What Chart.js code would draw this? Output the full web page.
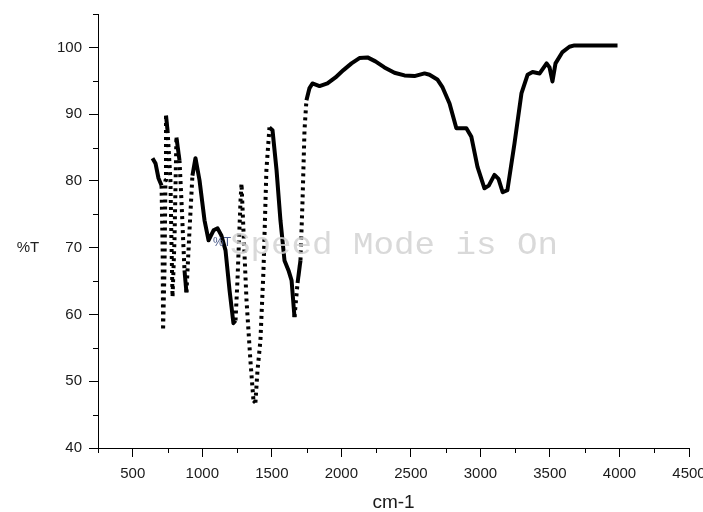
<!DOCTYPE html>
<html>
<head>
<meta charset="utf-8">
<title>%T vs cm-1</title>
<script src="https://cdn.jsdelivr.net/npm/chart.js@4.4.1/dist/chart.umd.min.js"></script>
<style>
  html, body { margin: 0; padding: 0; background: #fff; }
  #wrap { width: 703px; height: 512px; }
</style>
</head>
<body>
<div id="wrap"><canvas id="irChart" width="703" height="512"></canvas></div>
<script>
// spectrum (cm-1 / %T)
var wavenumber = [
  642, 664, 685, 707, 715, 718, 728, 735, 739, 750,
  771, 778, 786, 800, 814, 836, 850, 872, 886, 908,
  929, 951, 980, 1016, 1045, 1081, 1110, 1138, 1167, 1196,
  1224, 1239, 1253, 1275, 1282, 1296, 1318, 1346, 1368, 1382,
  1397, 1418, 1440, 1461, 1483, 1505, 1534, 1562, 1591, 1620,
  1642, 1663, 1685, 1706, 1721, 1735, 1749, 1771, 1792, 1843,
  1900, 1958, 2015, 2073, 2130, 2188, 2245, 2310, 2382, 2454,
  2526, 2598, 2634, 2690, 2728, 2778, 2827, 2899, 2935, 2979,
  3029, 3060, 3101, 3130, 3160, 3194, 3245, 3295, 3339, 3375,
  3426, 3476, 3497, 3518, 3540, 3590, 3640, 3676, 3986
];
var transmittance = [
  83.4, 82.6, 80.4, 79.3, 69.6, 57.6, 66.6, 80.1, 89.8, 87.6,
  80.1, 71.1, 62.6, 71.1, 86.5, 83.1, 77.1, 66.6, 63.3, 72.6,
  80.8, 83.4, 80.1, 74.1, 71.1, 72.6, 72.9, 71.8, 69.6, 63.6,
  58.7, 59.1, 65.1, 77.1, 79.6, 72.6, 62.1, 53.1, 47.1, 46.8,
  51.6, 56.1, 66.6, 81.6, 88.0, 87.6, 81.6, 74.1, 68.1, 66.6,
  65.1, 59.6, 64.7, 68.1, 77.1, 87.6, 92.1, 93.9, 94.6, 94.2,
  94.6, 95.5, 96.6, 97.6, 98.4, 98.5, 97.9, 97.0, 96.2, 95.8,
  95.7, 96.1, 95.9, 95.2, 94.0, 91.6, 87.9, 87.9, 86.6, 82.1,
  78.9, 79.3, 80.9, 80.3, 78.3, 78.6, 85.6, 93.1, 95.9, 96.3,
  96.1, 97.6, 97.0, 94.9, 97.6, 99.3, 100.1, 100.3, 100.3
];

var xTicks = [500, 1000, 1500, 2000, 2500, 3000, 3500, 4000, 4500];
var xMinorTicks = [250, 750, 1250, 1750, 2250, 2750, 3250, 3750, 4250];
var yTicks = [40, 50, 60, 70, 80, 90, 100];
var yMinorTicks = [45, 55, 65, 75, 85, 95, 105];

var points = wavenumber.map(function(w, i) {
    return { x: w, y: transmittance[i] };
});

// minor ticks, the flat "%T" label and the watermark
var extrasPlugin = {
    id: 'extras',
    afterDraw: function(chart) {
        var ctx = chart.ctx;
        var xs = chart.scales.x;
        var ys = chart.scales.y;
        var area = chart.chartArea;

        ctx.save();
        ctx.strokeStyle = '#000';
        ctx.lineWidth = 1;
        ctx.beginPath();
        xMinorTicks.forEach(function(v) {
            var px = Math.round(xs.getPixelForValue(v)) + 0.5;
            ctx.moveTo(px, area.bottom);
            ctx.lineTo(px, area.bottom + 5);
        });
        yMinorTicks.forEach(function(v) {
            var py = Math.round(ys.getPixelForValue(v)) + 0.5;
            ctx.moveTo(area.left, py);
            ctx.lineTo(area.left - 5, py);
        });
        ctx.stroke();

        ctx.fillStyle = '#222';
        ctx.font = '15px "Liberation Sans", Arial, sans-serif';
        ctx.textAlign = 'center';
        ctx.textBaseline = 'middle';
        ctx.fillText('%T', 28, ys.getPixelForValue(70));

        // small stray label inside the plot
        ctx.font = '12px "Liberation Sans", Arial, sans-serif';
        ctx.fillStyle = '#4a5a8a';
        ctx.textAlign = 'left';
        ctx.textBaseline = 'alphabetic';
        ctx.fillText('%T', 213, 246);

        // watermark
        ctx.font = '32px "Liberation Mono", "Courier New", monospace';
        ctx.fillStyle = 'rgba(210,210,210,0.85)';
        var txt = 'Speed Mode is On';
        var w = ctx.measureText(txt).width;
        ctx.translate(230, 254);
        ctx.scale(328 / w, 1);
        ctx.fillText(txt, 0, 0);
        ctx.restore();
    }
};

function plainLabel(v) {
    return String(v);
}

var ctx = document.getElementById('irChart').getContext('2d');

var irChart = new Chart(ctx, {
    type: 'line',
    data: {
        datasets: [{
            data: points,
            borderColor: '#000',
            borderWidth: 4,
            borderCapStyle: 'butt',
            borderJoinStyle: 'round',
            pointRadius: 0,
            tension: 0,
            fill: false,
            segment: {
                // steep parts come out as a column of dots
                borderDash: function(c) {
                    var dx = Math.abs(c.p1.x - c.p0.x);
                    var dy = Math.abs(c.p1.y - c.p0.y);
                    var rising = c.p1.y < c.p0.y;
                    var limit = rising ? 8 : 13;
                    return dy > limit * dx ? [3, 4] : undefined;
                }
            }
        }]
    },
    options: {
        responsive: false,
        devicePixelRatio: 1,
        animation: false,
        layout: { padding: { left: 0, top: 14, right: 14, bottom: 0 } },
        plugins: {
            legend: { display: false },
            tooltip: { enabled: false }
        },
        scales: {
            x: {
                type: 'linear',
                min: 250,
                max: 4500,
                afterBuildTicks: function(s) {
                    s.ticks = xTicks.map(function(v) { return { value: v }; });
                },
                afterFit: function(s) {
                    s.height = 64;
                    s.paddingLeft = 0;
                    s.paddingRight = 0;
                },
                grid: {
                    display: true,
                    drawOnChartArea: false,
                    drawTicks: true,
                    tickLength: 9,
                    color: '#000'
                },
                border: { display: true, color: '#000', width: 1 },
                ticks: {
                    padding: 8,
                    maxRotation: 0,
                    autoSkip: false,
                    color: '#1a1a1a',
                    callback: plainLabel,
                    font: { family: '"Liberation Sans", Arial, sans-serif', size: 15 }
                },
                title: {
                    display: true,
                    text: 'cm-1',
                    color: '#1a1a1a',
                    padding: { top: 0, bottom: 0 },
                    font: { family: '"Liberation Sans", Arial, sans-serif', size: 19, lineHeight: 1 }
                }
            },
            y: {
                type: 'linear',
                min: 40,
                max: 105,
                afterBuildTicks: function(s) {
                    s.ticks = yTicks.map(function(v) { return { value: v }; });
                },
                afterFit: function(s) {
                    s.width = 98;
                    s.paddingTop = 0;
                    s.paddingBottom = 0;
                },
                grid: {
                    display: true,
                    drawOnChartArea: false,
                    drawTicks: true,
                    tickLength: 9,
                    color: '#000'
                },
                border: { display: true, color: '#000', width: 1 },
                ticks: {
                    padding: 7,
                    autoSkip: false,
                    color: '#1a1a1a',
                    callback: plainLabel,
                    font: { family: '"Liberation Sans", Arial, sans-serif', size: 15 }
                }
            }
        }
    },
    plugins: [extrasPlugin]
});
</script>
</body>
</html>
